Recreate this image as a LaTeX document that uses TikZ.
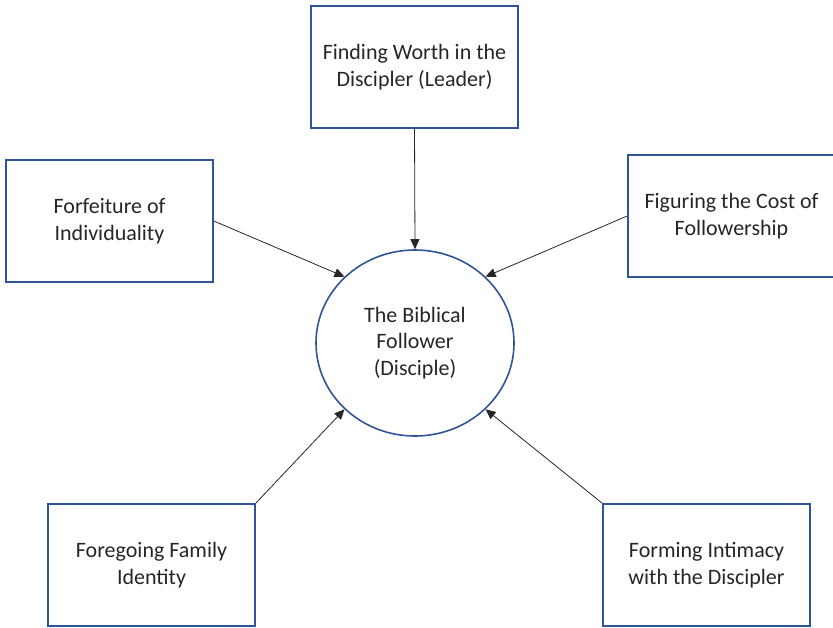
\documentclass[tikz,border=0pt]{standalone}
\usepackage{fontspec}
\setmainfont{Carlito}
\usetikzlibrary{shapes.geometric,arrows.meta}
\definecolor{boxblue}{RGB}{47,85,151}
\tikzset{
    themebox/.style={draw=boxblue, line width=0.8pt, rectangle, minimum width=103.5pt, minimum height=61pt, inner sep=0pt, align=center, text=black!85, font=\fontsize{11}{13.4}\selectfont},
    centrecirc/.style={draw=boxblue, line width=0.8pt, ellipse, minimum width=99pt, minimum height=93pt, inner sep=0pt, align=center, text=black!85, font=\fontsize{11}{13.4}\selectfont},
    pointer/.style={-{Triangle[length=5pt, width=4.5pt]}, line width=0.4pt, black!85}
}
\begin{document}
\begin{tikzpicture}[x=0.5pt, y=-0.5pt]
                \useasboundingbox (0,0) rectangle (833,627);
                \node[centrecirc] (follower) at (415,343) {The Biblical\\Follower\\(Disciple)};
                \node[themebox] (worth) at (414.5,67) {Finding Worth in the\\Discipler (Leader)};
                \node[themebox] (forfeit) at (109.5,221) {Forfeiture of\\Individuality};
                \node[themebox] (cost) at (731.5,216) {Figuring the Cost of\\Followership};
                \node[themebox] (family) at (151.5,565) {Foregoing Family\\Identity};
                \node[themebox] (intimacy) at (706.5,565) {Forming Intimacy\\with the Discipler};
                \draw[pointer] (worth.south) -- (follower.north);
                \draw[pointer] (forfeit.east) -- (follower.north west);
                \draw[pointer] (cost.west) -- (follower.north east);
                \draw[pointer] (family.north east) -- (follower.south west);
                \draw[pointer] (intimacy.north west) -- (follower.south east);
            \end{tikzpicture}
\end{document}
